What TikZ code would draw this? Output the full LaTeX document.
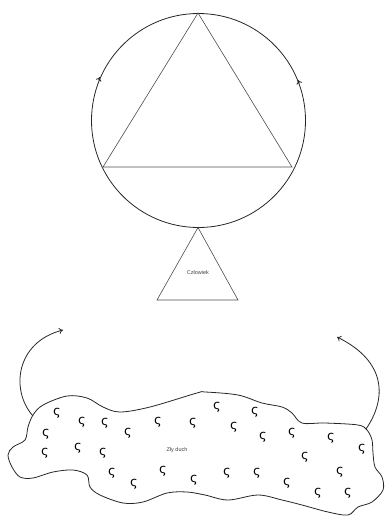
\documentclass[tikz,border=0pt]{standalone}
\usepackage{fontspec}
\setmainfont{Liberation Sans}
\newfontfamily\sigmafont{DejaVu Sans}
\usetikzlibrary{arrows.meta}
\tikzset{
  outline/.style={draw=black!85, line width=0.8pt},
  thinline/.style={draw=black!70, line width=0.6pt},
  label/.style={font=\fontsize{5.5}{6}\selectfont, text=black!75, inner sep=0pt},
  sig/.style={font=\sigmafont\fontsize{13}{13}\selectfont, text=black, inner sep=0pt},
  tip/.style={-{To[length=4pt,width=6pt]}, line width=0.8pt, draw=black!85},
}
\begin{document}
\begin{tikzpicture}[x=1pt,y=-1pt]
\useasboundingbox (0,0) rectangle (385,517);
% big circle with triangle
\coordinate (cc) at (198.5,120.5);
\draw[outline] (cc) circle[radius=107];
\coordinate (ta) at (198,13);
\coordinate (tl) at (103,167);
\coordinate (tr) at (292,167);
\draw[thinline] (ta) -- (tl) -- (tr) -- cycle;
% arrowheads on circle
\coordinate (la0) at (98.6,80.2);
\coordinate (la1) at (100,77);
\draw[tip] (la0) -- (la1);
\coordinate (ra0) at (299.3,83.2);
\coordinate (ra1) at (298,80);
\draw[tip] (ra0) -- (ra1);
% small triangle
\coordinate (sa) at (198,227.5);
\coordinate (sl) at (157,300);
\coordinate (sr) at (238,300);
\draw[thinline] (sa) -- (sl) -- (sr) -- cycle;
\node[label] (czl) at (198,273) {Człowiek};
% blob
\draw[outline] plot[smooth cycle, tension=0.55] coordinates {
(33,415) (43,405) (67,396) (87,398) (103,407) (120,412) (150,407) (197,393)
(205,392) (238,395) (262,403) (282,407) (292,413) (302,423) (325,423)
(358,425) (367,430) (372,440) (373,453) (375,467) (382,477) (383,490)
(372,502) (358,507) (348,515) (328,512) (302,505) (282,500) (258,495)
(228,500) (205,495) (187,492) (167,493) (143,502) (123,503) (100,495)
(90,487) (87,475) (73,470) (53,472) (33,478) (20,477) (12,467) (8,455)
(13,447) (25,440) (28,427)};
\node[label] (zly) at (177,450) {Zły duch};
% curved arrows
\coordinate (lj) at (33,416);
\coordinate (lt) at (63,330);
\draw[tip] (lj) .. controls (10,390) and (16,342) .. (lt);
\coordinate (rj) at (366,429);
\coordinate (rt) at (337,337);
\draw[tip] (rj) .. controls (386,400) and (388,362) .. (rt);
% sigmas
\foreach \x/\y [count=\i] in {57/413,82/422,105/423,46/434,128/433,158/422,193/423,217/407,234/427,255/412,263/437,292/433,331/438,362/449,45/453,78/448,103/453,305/457,340/472,112/473,134/484,163/471,194/480,227/473,257/473,287/483,318/493,348/493}
  \node[sig] (s\i) at (\x,\y) {ς};
\end{tikzpicture}
\end{document}
